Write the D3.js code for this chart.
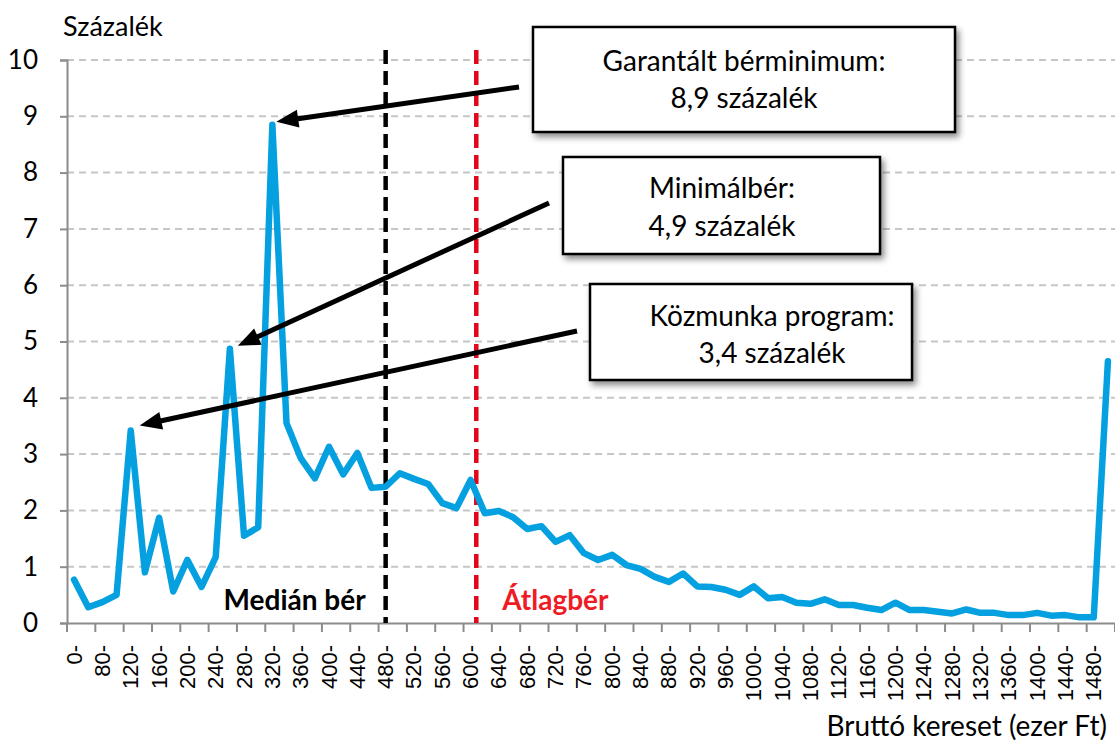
<!DOCTYPE html>
<html><head><meta charset="utf-8">
<script src="https://cdn.jsdelivr.net/npm/d3@7"></script>
<style>body{margin:0;background:#fff}svg{display:block}</style>
</head><body><svg id="c" width="1115" height="749"></svg>
<script>
const categories = ["0-","60-","80-","100-","120-","140-","160-","180-","200-","220-","240-","260-","280-","300-","320-","340-","360-","380-","400-","420-","440-","460-","480-","500-","520-","540-","560-","580-","600-","620-","640-","660-","680-","700-","720-","740-","760-","780-","800-","820-","840-","860-","880-","900-","920-","940-","960-","980-","1000-","1020-","1040-","1060-","1080-","1100-","1120-","1140-","1160-","1180-","1200-","1220-","1240-","1260-","1280-","1300-","1320-","1340-","1360-","1380-","1400-","1420-","1440-","1460-","1480-","1500-"];
const shares = [0.77,0.28,0.37,0.50,3.42,0.90,1.87,0.56,1.12,0.64,1.17,4.87,1.55,1.70,8.85,3.55,2.93,2.57,3.13,2.64,3.02,2.40,2.42,2.66,2.56,2.47,2.13,2.04,2.54,1.95,1.99,1.88,1.67,1.72,1.44,1.56,1.24,1.12,1.21,1.03,0.96,0.82,0.73,0.88,0.65,0.64,0.59,0.50,0.65,0.44,0.46,0.36,0.34,0.42,0.32,0.32,0.27,0.23,0.36,0.23,0.23,0.20,0.17,0.24,0.18,0.18,0.14,0.14,0.18,0.13,0.14,0.10,0.10,4.65];
const yTicks = [0,1,2,3,4,5,6,7,8,9,10];
const medianWage = 490;   // ezer Ft
const averageWage = 618;  // ezer Ft
const annotations = [
  {line1:"Garantált bérminimum:", line2:"8,9 százalék", target:"320-"},
  {line1:"Minimálbér:", line2:"4,9 százalék", target:"260-"},
  {line1:"Közmunka program:", line2:"3,4 százalék", target:"120-"}
];
const yTitle = "Százalék";
const xTitle = "Bruttó kereset (ezer Ft)";

(function(){
const svg = d3.select("#c");
const L0 = 67, R0 = 1115, T0 = 60, B0 = 623;
const x = d3.scaleBand().domain(categories).range([L0, R0]).padding(0);
const y = d3.scaleLinear().domain([0, 10]).range([B0, T0]);
const cx = c => x(c) + x.bandwidth()/2;
const wageX = d3.scaleLinear().domain([80, 1480]).range([x("80-"), x("1480-")]);

const defs = svg.append("defs");
const f = defs.append("filter").attr("id","sh").attr("x","-10%").attr("y","-20%").attr("width","130%").attr("height","160%");
f.append("feDropShadow").attr("dx",3).attr("dy",4).attr("stdDeviation",3).attr("flood-color","#000").attr("flood-opacity",0.45);

const font = "Lato, 'Open Sans', sans-serif";

svg.append("g").selectAll("line").data(yTicks.filter(d=>d>0)).join("line")
  .attr("x1", L0).attr("x2", R0).attr("y1", d=>y(d)).attr("y2", d=>y(d))
  .attr("stroke","#c6c6c6").attr("stroke-width",2).attr("stroke-dasharray","7,5");

const yAxis = svg.append("g").attr("transform",`translate(${L0},0)`)
  .call(d3.axisLeft(y).tickValues(yTicks).tickSize(7).tickPadding(22).tickFormat(d3.format("d")));
yAxis.select(".domain").attr("stroke","#8c8c8c").attr("stroke-width",2);
yAxis.selectAll(".tick line").attr("stroke","#8c8c8c").attr("stroke-width",2);
yAxis.selectAll("text").attr("font-family",font).attr("font-size",26).attr("fill","#000");

const tickCats = categories.filter((d,i)=>i%2===0);
const xAxis = svg.append("g").attr("transform",`translate(0,${B0})`)
  .call(d3.axisBottom(x).tickValues(tickCats).tickSize(0).tickPadding(0));
xAxis.select(".domain").attr("stroke","#8c8c8c").attr("stroke-width",2);
xAxis.selectAll("text").attr("font-family","'Liberation Sans', Arial, sans-serif").attr("font-size",22).attr("fill","#000")
  .attr("text-anchor","end").attr("dy",null)
  .attr("transform","translate(0,22) rotate(-90)").attr("x",0).attr("y",0).attr("dominant-baseline","central");
svg.append("g").selectAll("line").data(tickCats.concat([null])).join("line")
  .attr("x1", d=> d===null ? R0 : x(d)).attr("x2", d=> d===null ? R0 : x(d))
  .attr("y1", B0).attr("y2", B0+9).attr("stroke","#8c8c8c").attr("stroke-width",2);

svg.append("text").attr("x",63).attr("y",36).attr("font-family",font).attr("font-size",27).text(yTitle);
svg.append("text").attr("x",1107).attr("y",736).attr("text-anchor","end").attr("font-family",font).attr("font-size",28).text(xTitle);

svg.append("line").attr("x1",wageX(medianWage)).attr("x2",wageX(medianWage)).attr("y1",50).attr("y2",B0)
  .attr("stroke","#000").attr("stroke-width",4.5).attr("stroke-dasharray","14,7");
svg.append("line").attr("x1",wageX(averageWage)).attr("x2",wageX(averageWage)).attr("y1",50).attr("y2",B0)
  .attr("stroke","#e3061b").attr("stroke-width",4.5).attr("stroke-dasharray","14,7");
svg.append("text").attr("x",wageX(medianWage)-20).attr("y",610).attr("text-anchor","end")
  .attr("font-family",font).attr("font-weight","bold").attr("font-size",28).attr("fill","#000").text("Medián bér");
svg.append("text").attr("x",wageX(averageWage)+26).attr("y",610)
  .attr("font-family",font).attr("font-weight","bold").attr("font-size",28).attr("fill","#ee1c25").text("Átlagbér");

svg.append("path").datum(shares)
  .attr("d", d3.line().x((d,i)=>cx(categories[i])).y(d=>y(d)))
  .attr("fill","none").attr("stroke","#04a0e0").attr("stroke-width",6.5).attr("stroke-linejoin","round").attr("stroke-linecap","round");

const boxes = [
  {x0:533,y0:27,x1:955,y1:132,tx:744,b1:71,b2:108,tail:[519,87],off:[4,-3]},
  {x0:563,y0:157,x1:880,y1:254,tx:722,b1:198,b2:236,tail:[549,203],off:[8,-3]},
  {x0:590,y0:284,x1:912,y1:380,tx:772,b1:326,b2:363,tail:[577,331],off:[9,-5]}
];
annotations.forEach((a,i)=>{
  const b = boxes[i];
  const idx = categories.indexOf(a.target);
  const tip = [cx(a.target)+b.off[0], y(shares[idx])+b.off[1]];
  const dx = tip[0]-b.tail[0], dy = tip[1]-b.tail[1], len = Math.hypot(dx,dy);
  const ux = dx/len, uy = dy/len, nx = -uy, ny = ux;
  const HL = 22, HW = 9;
  const base = [tip[0]-ux*HL, tip[1]-uy*HL];
  svg.append("line").attr("x1",b.tail[0]).attr("y1",b.tail[1]).attr("x2",base[0]+ux*2).attr("y2",base[1]+uy*2)
    .attr("stroke","#000").attr("stroke-width",5);
  svg.append("polygon").attr("points",[tip,[base[0]+nx*HW,base[1]+ny*HW],[base[0]-nx*HW,base[1]-ny*HW]].map(p=>p.join(",")).join(" "))
    .attr("fill","#000");
  svg.append("rect").attr("x",b.x0).attr("y",b.y0).attr("width",b.x1-b.x0).attr("height",b.y1-b.y0)
    .attr("fill","#fff").attr("stroke","#000").attr("stroke-width",2.5).attr("filter","url(#sh)");
  svg.append("text").attr("x",b.tx).attr("y",b.b1).attr("text-anchor","middle").attr("font-family",font).attr("font-size",28).text(a.line1);
  svg.append("text").attr("x",b.tx).attr("y",b.b2).attr("text-anchor","middle").attr("font-family",font).attr("font-size",28).text(a.line2);
});
})();
</script></body></html>
